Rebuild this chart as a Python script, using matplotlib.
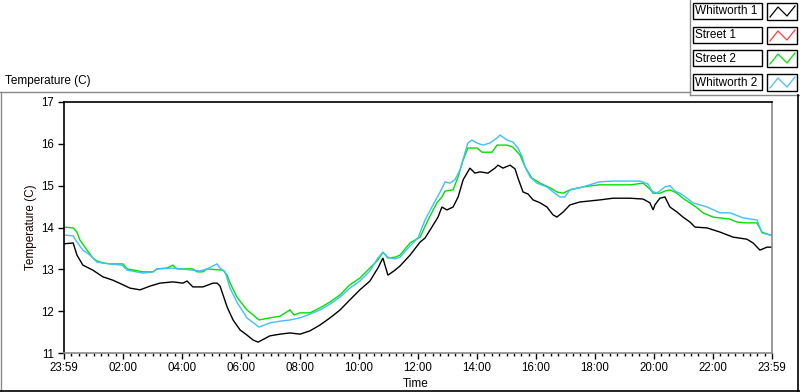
import matplotlib
matplotlib.use("Agg")
import matplotlib.pyplot as plt
from matplotlib.lines import Line2D
from matplotlib.patches import Rectangle
from matplotlib.ticker import MultipleLocator, FixedLocator

plt.rcParams['font.family'] = ['Liberation Sans', 'DejaVu Sans']

# ---------------- data (hours since 23:59, temperature in C) ----------------
w1_h = [0, 0.31, 0.44, 0.64, 0.98, 1.32, 1.66, 2.0, 2.24, 2.58, 2.92, 3.25, 3.69, 4.03, 4.17, 4.37,
        4.71, 5.05, 5.19, 5.29, 5.39, 5.53, 5.73, 5.97, 6.20, 6.41, 6.58, 6.98, 7.32, 7.66, 8.0, 8.34,
        8.68, 9.02, 9.36, 9.69, 10.03, 10.37, 10.64, 10.81, 10.98, 11.22, 11.39, 11.73, 12.07, 12.24,
        12.47, 12.68, 12.81, 12.98, 13.19, 13.36, 13.53, 13.76, 13.93, 14.1, 14.37, 14.61, 14.71, 14.88,
        15.12, 15.29, 15.39, 15.56, 15.73, 15.9, 16.14, 16.37, 16.58, 16.71, 16.92, 17.15, 17.49, 18.17,
        18.61, 19.19, 19.63, 19.86, 19.97, 20.03, 20.2, 20.37, 20.54, 20.78, 20.98, 21.22, 21.39, 21.8,
        22.24, 22.68, 23.15, 23.36, 23.59, 23.83, 24.0]
w1_t = [13.61, 13.63, 13.34, 13.10, 12.98, 12.82, 12.74, 12.63, 12.55, 12.51, 12.60, 12.67, 12.70, 12.67,
        12.72, 12.58, 12.58, 12.67, 12.67, 12.60, 12.39, 12.10, 11.79, 11.55, 11.43, 11.31, 11.26, 11.41,
        11.45, 11.48, 11.45, 11.53, 11.67, 11.84, 12.03, 12.27, 12.51, 12.72, 13.03, 13.27, 12.86, 12.98,
        13.08, 13.34, 13.65, 13.75, 14.01, 14.25, 14.49, 14.42, 14.49, 14.73, 15.14, 15.42, 15.30, 15.33,
        15.30, 15.42, 15.49, 15.42, 15.49, 15.40, 15.18, 14.85, 14.80, 14.66, 14.59, 14.49, 14.30, 14.25,
        14.37, 14.54, 14.61, 14.66, 14.70, 14.70, 14.68, 14.59, 14.42, 14.54, 14.70, 14.73, 14.49, 14.37,
        14.25, 14.13, 14.01, 13.99, 13.89, 13.77, 13.72, 13.63, 13.46, 13.53, 13.53]

s1_h = []
s1_t = []

s2_h = [0, 0.31, 0.44, 0.54, 0.78, 0.98, 1.12, 1.32, 1.56, 2.0, 2.14, 2.68, 3.02, 3.15, 3.49, 3.69, 3.83,
        4.37, 4.51, 4.71, 4.85, 5.39, 5.53, 5.63, 5.86, 6.20, 6.41, 6.61, 6.98, 7.32, 7.66, 7.8, 8.0,
        8.34, 8.68, 9.02, 9.36, 9.69, 10.03, 10.37, 10.64, 10.81, 10.98, 11.22, 11.39, 11.73, 12.07,
        12.34, 12.64, 12.81, 12.92, 13.19, 13.36, 13.53, 13.69, 14.0, 14.17, 14.51, 14.68, 15.02, 15.22,
        15.46, 15.63, 15.86, 16.14, 16.47, 16.71, 16.92, 17.15, 17.59, 18.14, 19.19, 19.63, 19.86, 19.97,
        20.2, 20.37, 20.54, 20.78, 20.98, 21.22, 21.46, 21.66, 22.0, 22.58, 22.81, 23.15, 23.49, 23.66,
        23.93, 24.0]
s2_t = [14.01, 13.99, 13.89, 13.70, 13.46, 13.27, 13.20, 13.15, 13.13, 13.13, 13.01, 12.94, 12.94, 13.01,
        13.03, 13.10, 13.01, 13.01, 12.94, 12.94, 13.01, 12.98, 12.86, 12.67, 12.34, 12.03, 11.91, 11.79,
        11.84, 11.88, 12.03, 11.91, 11.96, 11.96, 12.08, 12.22, 12.39, 12.63, 12.79, 13.03, 13.22, 13.41,
        13.27, 13.29, 13.34, 13.63, 13.77, 14.18, 14.59, 14.73, 14.87, 14.90, 15.21, 15.61, 15.90, 15.90,
        15.80, 15.80, 15.97, 15.97, 15.92, 15.73, 15.45, 15.18, 15.06, 14.95, 14.85, 14.82, 14.90, 14.97,
        15.02, 15.02, 15.06, 14.92, 14.82, 14.82, 14.87, 14.90, 14.82, 14.70, 14.59, 14.47, 14.35, 14.25,
        14.20, 14.13, 14.11, 14.11, 13.89, 13.82, 13.82]

w2_h = [0, 0.31, 0.44, 0.64, 0.88, 1.12, 1.56, 1.97, 2.14, 2.68, 3.02, 3.15, 3.69, 4.37, 4.61, 4.85, 5.19,
        5.29, 5.46, 5.63, 5.86, 6.20, 6.61, 6.98, 7.32, 7.66, 8.0, 8.34, 8.68, 9.02, 9.36, 9.69, 10.03,
        10.37, 10.64, 10.81, 10.98, 11.22, 11.39, 11.73, 12.0, 12.24, 12.47, 12.75, 12.92, 13.08, 13.25,
        13.42, 13.59, 13.69, 13.83, 14.0, 14.2, 14.44, 14.68, 14.78, 15.02, 15.22, 15.39, 15.53, 15.63,
        15.8, 16.03, 16.37, 16.58, 16.81, 16.98, 17.15, 17.59, 18.14, 18.61, 19.53, 19.8, 19.93, 20.1,
        20.37, 20.54, 20.71, 20.88, 21.12, 21.32, 21.8, 22.24, 22.58, 23.02, 23.49, 23.66, 23.93, 24.0]
w2_t = [13.82, 13.80, 13.65, 13.46, 13.34, 13.17, 13.13, 13.10, 12.98, 12.91, 12.94, 13.01, 13.03, 12.98,
        12.96, 13.01, 13.13, 13.03, 12.94, 12.55, 12.22, 11.84, 11.62, 11.72, 11.76, 11.79, 11.84, 11.93,
        12.03, 12.17, 12.34, 12.55, 12.72, 12.96, 13.27, 13.41, 13.29, 13.25, 13.29, 13.56, 13.75, 14.18,
        14.49, 14.85, 15.09, 15.06, 15.14, 15.37, 15.78, 16.02, 16.09, 16.02, 15.97, 16.02, 16.14, 16.21,
        16.09, 16.04, 15.90, 15.69, 15.45, 15.21, 15.06, 14.97, 14.85, 14.73, 14.73, 14.90, 14.97, 15.09,
        15.11, 15.11, 15.04, 14.87, 14.82, 14.97, 15.00, 14.87, 14.82, 14.70, 14.59, 14.49, 14.35, 14.35,
        14.23, 14.18, 13.87, 13.82, 13.82]

series_names = ["Whitworth 1", "Street 1", "Street 2", "Whitworth 2"]
series_colors = ["#000000", "#ff3c3c", "#00e000", "#3fbfff"]

x_ticks = [0, 2, 4, 6, 8, 10, 12, 14, 16, 18, 20, 22, 24]
x_labels = ["23:59", "02:00", "04:00", "06:00", "08:00", "10:00", "12:00",
            "14:00", "16:00", "18:00", "20:00", "22:00", "23:59"]
y_ticks = [11, 12, 13, 14, 15, 16, 17]

# ---------------- figure ----------------
W, H = 800, 392
fig = plt.figure(figsize=(W / 100, H / 100), dpi=100)
fig.patch.set_facecolor("white")

def fx(x):
    return x / W

def fy(y):
    return 1 - y / H

ax = fig.add_axes([fx(64), fy(353), (772 - 64) / W, (353 - 102) / H])
ax.set_facecolor("white")

data = [(w1_h, w1_t), (s1_h, s1_t), (s2_h, s2_t), (w2_h, w2_t)]
for (hh, tt), c in zip(data, series_colors):
    ax.plot(hh, tt, color=c, lw=1.0, solid_joinstyle="miter")

ax.set_xlim(0, 24)
ax.set_ylim(11, 17)
ax.xaxis.set_major_locator(FixedLocator(x_ticks))
ax.set_xticklabels(x_labels)
ax.xaxis.set_minor_locator(MultipleLocator(0.25))
ax.set_yticks(y_ticks)
ax.tick_params(axis="both", which="major", direction="out", length=4, width=1,
               labelsize=8.3, color="black")
ax.tick_params(axis="x", which="minor", direction="out", length=2.2, width=1, color="black")
ax.tick_params(axis="x", which="major", pad=2.5)
ax.tick_params(axis="y", which="major", pad=3.5)

for s in ["top", "left"]:
    ax.spines[s].set_color("black")
for s in ["right", "bottom"]:
    ax.spines[s].set_color("#8a8a8a")
for s in ax.spines.values():
    s.set_linewidth(1.2)

fig.text(fx(31), fy(227), "Temperature (C)", rotation=90, ha="center", va="center",
         fontsize=8.5, color="#1a0000")
fig.text(fx(416), fy(384), "Time", ha="center", va="center", fontsize=8.5)
fig.text(fx(5), fy(81), "Temperature (C)", ha="left", va="center", fontsize=8.5)

# panel frame
def fline(xs, ys, color, lw=1.0):
    fig.add_artist(Line2D([fx(v) for v in xs], [fy(v) for v in ys], color=color, lw=lw,
                          transform=fig.transFigure))

fline([0, 690], [92, 92], "#8a8a8a")
fline([1, 1], [92, 391], "#8a8a8a")
fline([690, 690], [0, 95], "#8a8a8a")
fline([690, 800], [95, 95], "#8a8a8a")
fline([0, 800], [390.5, 390.5], "black", 1.2)
fline([798, 798], [95, 391], "black", 1.2)

# legend
row_tops = [3, 27, 50, 74]
for name, c, top in zip(series_names, series_colors, row_tops):
    fig.add_artist(Rectangle((fx(693), fy(top + 16)), 69 / W, 16 / H, transform=fig.transFigure,
                             facecolor="white", edgecolor="black", lw=1.0))
    fig.text(fx(695), fy(top + 8.5), name, ha="left", va="center", fontsize=8.5)
    fig.add_artist(Rectangle((fx(767), fy(top + 17)), 30 / W, 17 / H, transform=fig.transFigure,
                             facecolor="white", edgecolor="black", lw=1.0))
    fline([770, 778, 787, 795], [top + 14, top + 4, top + 13, top + 3], c, 0.9)

fig.savefig("out.png", dpi=100, facecolor="white")
